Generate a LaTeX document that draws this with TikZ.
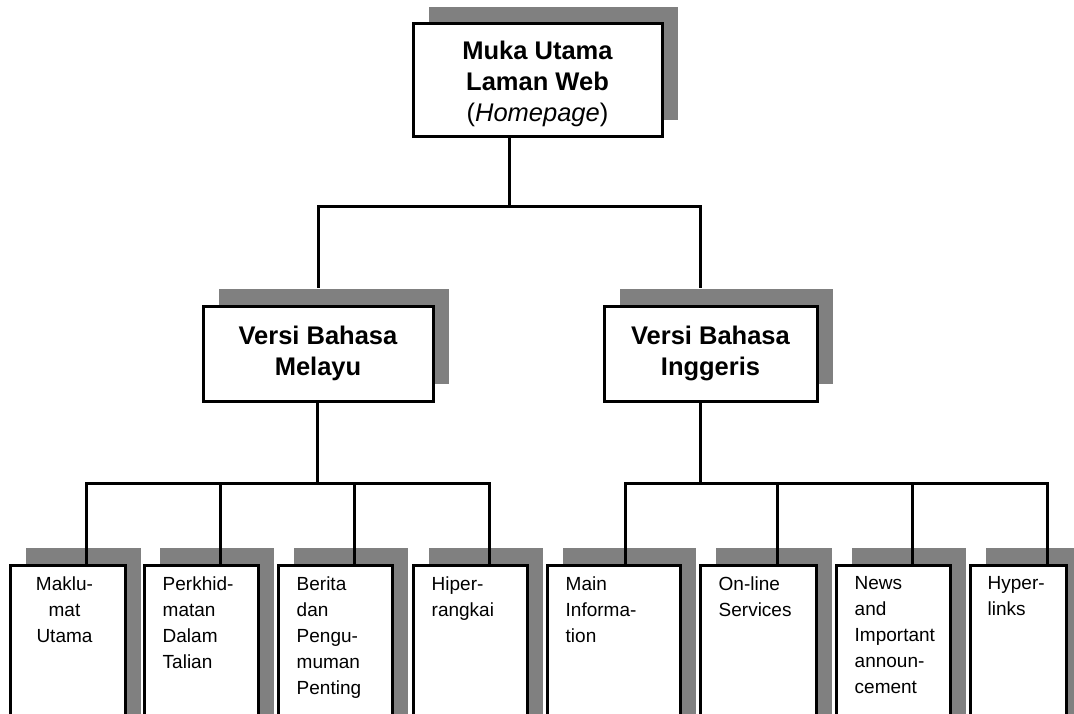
\documentclass[tikz,border=0pt]{standalone}
\usepackage{fontspec}
\setmainfont{Liberation Sans}
\usetikzlibrary{shadows}
\definecolor{shadowgray}{RGB}{128,128,128}
\tikzset{
  box/.style={draw, line width=3pt, fill=white, inner sep=0pt,
    drop shadow={shadow xshift=16pt, shadow yshift=17pt, fill=shadowgray, opacity=1}},
  headbox/.style={box, align=center, font=\fontsize{25.5}{31}\selectfont\bfseries},
  leaf/.style={box, minimum height=168pt},
  leaftext/.style={anchor=north west, align=left, inner sep=0pt,
    font=\fontsize{19}{26}\selectfont},
  link/.style={line width=3pt},
}
\begin{document}
\begin{tikzpicture}[x=1pt, y=-1pt]
    \useasboundingbox (0,0) rectangle (1074,714);
    \clip (0,0) rectangle (1074,714);
    % Homepage
    \node[headbox, minimum width=249pt, minimum height=113pt] (top) at (537.5,80.5)
        {\rule{0pt}{25pt}Muka Utama\\Laman Web\\{\mdseries(\textit{Homepage})}};
    % Two language versions
    \node[headbox, minimum width=230pt, minimum height=95pt] (melayu) at (318,353.5)
        {Versi Bahasa\\Melayu};
    \node[headbox, minimum width=213pt, minimum height=95pt] (inggeris) at (710.5,353.5)
        {Versi Bahasa\\Inggeris};
    % Malay pages
    \node[leaf, minimum width=115pt] (m1) at (67.5,649) {};
    \node[leaf, minimum width=114pt] (m2) at (201,649) {};
    \node[leaf, minimum width=114pt] (m3) at (335,649) {};
    \node[leaf, minimum width=114pt] (m4) at (470,649) {};
    % English pages
    \node[leaf, minimum width=133pt] (e1) at (613.5,649) {};
    \node[leaf, minimum width=116pt] (e2) at (758,649) {};
    \node[leaf, minimum width=114pt] (e3) at (893,649) {};
    \node[leaf, minimum width=96pt] (e4) at (1018,649) {};
    % Page texts
    \node[leaftext, anchor=north, align=center] (m1t) at ([xshift=-3pt,yshift=-13pt]m1.north) {Maklu-\\mat\\Utama};
    \node[leaftext] (m2t) at ([xshift=20pt,yshift=-13pt]m2.north west) {Perkhid-\\matan\\Dalam\\Talian};
    \node[leaftext] (m3t) at ([xshift=20pt,yshift=-13pt]m3.north west) {Berita\\dan\\Pengu-\\muman\\Penting};
    \node[leaftext] (m4t) at ([xshift=20pt,yshift=-13pt]m4.north west) {Hiper-\\rangkai};
    \node[leaftext] (e1t) at ([xshift=20pt,yshift=-13pt]e1.north west) {Main\\Informa-\\tion};
    \node[leaftext] (e2t) at ([xshift=20pt,yshift=-13pt]e2.north west) {On-line\\Services};
    \node[leaftext] (e3t) at ([xshift=20pt,yshift=-13pt]e3.north west) {News\\and\\Important\\announ-\\cement};
    \node[leaftext] (e4t) at ([xshift=19pt,yshift=-13pt]e4.north west) {Hyper-\\links};
    % Junctions
    \coordinate (jt) at (509,207);
    \coordinate (jm) at (317,483);
    \coordinate (je) at (700,483);
    % Top level links
    \draw[link] (top.south -| jt) -- (jt);
    \draw[link] ([yshift=17pt]melayu.north) |- (jt) -| ([xshift=-10.5pt,yshift=17pt]inggeris.north);
    % Malay links
    \draw[link] (melayu.south -| jm) -- (jm);
    \draw[link] ([xshift=19pt]m1.north) |- (jm) -| ([xshift=19pt]m4.north);
    \foreach \n in {m2,m3}
        \draw[link] ([xshift=19pt]\n.north) -- ([xshift=19pt]\n.north |- jm);
    % English links
    \draw[link] (inggeris.south -| je) -- (je);
    \draw[link] ([xshift=11.5pt]e1.north) |- (je) -| ([xshift=29pt]e4.north);
    \foreach \n in {e2,e3}
        \draw[link] ([xshift=19pt]\n.north) -- ([xshift=19pt]\n.north |- je);
\end{tikzpicture}
\end{document}
